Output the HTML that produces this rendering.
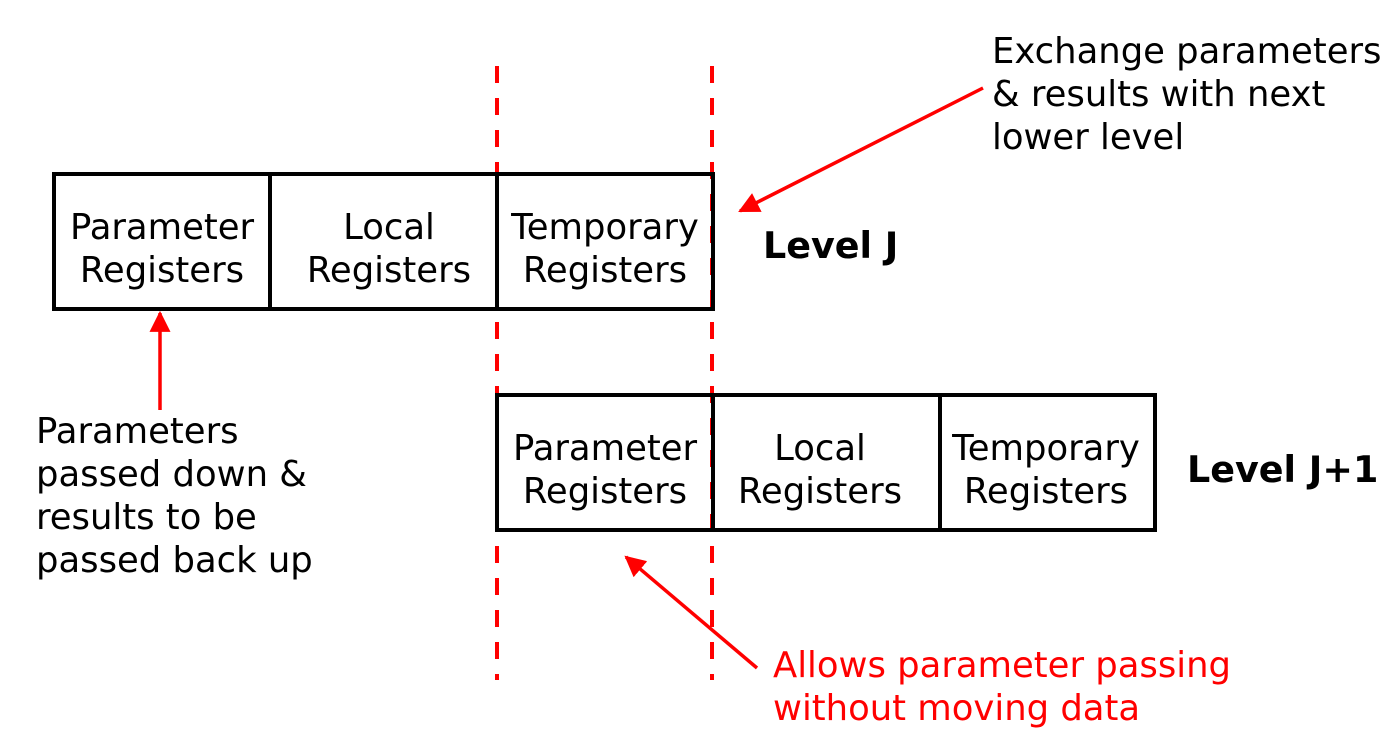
<!DOCTYPE html>
<html><head><meta charset="utf-8"><style>
html,body{margin:0;padding:0;background:#fff;}
svg{display:block;}
text{font-family:"DejaVu Sans","Liberation Sans",sans-serif;}
</style></head><body>
<svg width="1397" height="750" viewBox="0 0 1397 750">
<defs>
<marker id="a" viewBox="0 0 10 10" refX="9" refY="5" markerWidth="6" markerHeight="6" orient="auto"><path d="M0,0 L10,5 L0,10 z" fill="#f00"/></marker>
</defs>
<g stroke="#f00" stroke-width="4" stroke-dasharray="17 15">
<line x1="497" y1="66" x2="497" y2="680"/>
<line x1="712" y1="66" x2="712" y2="680"/>
</g>
<g stroke="#000" stroke-width="4" fill="none">
<rect x="54" y="174" width="659" height="135"/>
<line x1="270" y1="174" x2="270" y2="309"/>
<line x1="497" y1="174" x2="497" y2="309"/>
<rect x="497" y="395" width="658" height="135"/>
<line x1="713" y1="395" x2="713" y2="530"/>
<line x1="940" y1="395" x2="940" y2="530"/>
</g>
<g stroke="#f00" stroke-width="3.5" fill="none">
<line x1="983" y1="88" x2="740" y2="211" marker-end="url(#a)"/>
<line x1="160" y1="410" x2="160" y2="313" marker-end="url(#a)"/>
<line x1="757" y1="668" x2="626" y2="557" marker-end="url(#a)"/>
</g>
<g font-size="35.4" fill="#000" text-anchor="middle">
<text x="162" y="239">Parameter</text><text x="162" y="282">Registers</text>
<text x="389" y="239">Local</text><text x="389" y="282">Registers</text>
<text x="605" y="239">Temporary</text><text x="605" y="282">Registers</text>
<text x="605" y="460">Parameter</text><text x="605" y="503">Registers</text>
<text x="820" y="460">Local</text><text x="820" y="503">Registers</text>
<text x="1046" y="460">Temporary</text><text x="1046" y="503">Registers</text>
</g>
<g font-size="35.4" fill="#000">
<text x="992" y="63">Exchange parameters</text>
<text x="992" y="106">&amp; results with next</text>
<text x="992" y="149">lower level</text>
<text x="36" y="443">Parameters</text>
<text x="36" y="486">passed down &amp;</text>
<text x="36" y="529">results to be</text>
<text x="36" y="572">passed back up</text>
</g>
<g font-size="36.5" font-weight="bold" fill="#000">
<text x="763" y="258">Level J</text>
<text x="1187" y="482">Level J+1</text>
</g>
<g font-size="35.4" fill="#f00">
<text x="773" y="677">Allows parameter passing</text>
<text x="773" y="720">without moving data</text>
</g>
</svg>
</body></html>
